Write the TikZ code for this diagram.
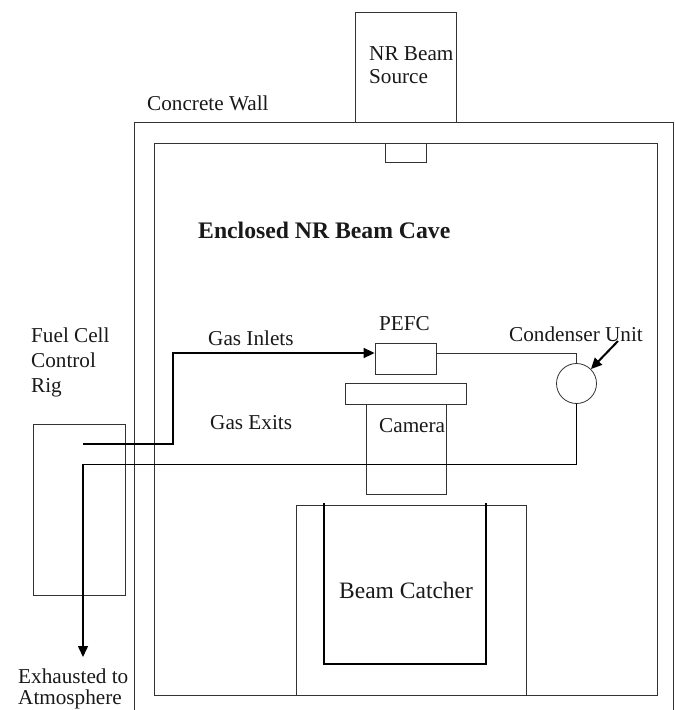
\documentclass[tikz,border=0pt]{standalone}
\usepackage{fontspec}
\setmainfont{Liberation Serif}
\usetikzlibrary{arrows.meta}
\begin{document}
\begin{tikzpicture}[x=1pt,y=-1pt,
  ln/.style={draw=black!80, line width=0.8pt},
  boxn/.style={ln, rectangle, inner sep=0pt, fill=none},
  lbl/.style={font=\fontsize{21.2}{25}\selectfont, anchor=base west, inner sep=0pt, text=black!90},
  flow/.style={draw=black, line width=1.5pt, -{Triangle[length=11pt,width=10pt]}},
  thinflow/.style={draw=black, line width=1pt}
]
\useasboundingbox (0,0) rectangle (675,710);

% concrete wall and cave
\draw[ln] (134,710) -- (134,122) -- (673,122) -- (673,710);
\node[boxn, minimum width=503pt, minimum height=552pt] (cave) at (405.5,419) {};
\node[boxn, minimum width=101pt, minimum height=110pt] (src) at (405.5,67) {};
\node[boxn, minimum width=41pt, minimum height=19pt] (win) at (405.5,152.5) {};

% components
\node[boxn, minimum width=61pt, minimum height=31pt] (pefc) at (405.5,358.5) {};
\node[boxn, minimum width=121pt, minimum height=21pt] (plate) at (405.5,393.5) {};
\node[boxn, minimum width=80pt, minimum height=90pt] (cam) at (406,449) {};
\node[ln, circle, minimum size=40pt, inner sep=0pt] (cond) at (576.5,383.5) {};
\node[boxn, minimum width=92pt, minimum height=171pt] (rig) at (79,509.5) {};
\node[boxn, minimum width=230pt, minimum height=190pt] (bc) at (411,600) {};
\draw[draw=black, line width=2pt] (324,503) -- (324,664) -- (486,664) -- (486,503);

% connectors
\coordinate (inS) at (83,444);
\coordinate (pipeY) at (0,353);
\coordinate (outE) at (83,464);
\coordinate (exh) at (83,657);
\coordinate (cArr) at (618,341);
\draw[flow] (inS) -- (173,444) -- (173,353) -- (pefc.west |- pipeY);
\draw[ln] (pefc.east |- pipeY) -| (cond.north);
\draw[thinflow] (cond.south) -- (cond.south |- outE) -- (outE);
\draw[flow] (outE) -- (exh);
\draw[flow, line width=2pt] (cArr) -- (cond.north east);

% labels
\node[lbl] (tsrc1) at (369,60) {NR Beam};
\node[lbl] (tsrc2) at (369,83) {Source};
\node[lbl] (twall) at (147,110) {Concrete Wall};
\node[lbl, font=\fontsize{23.7}{28}\selectfont\bfseries] (tcave) at (198,238) {Enclosed NR Beam Cave};
\node[lbl] (tin) at (208,345) {Gas Inlets};
\node[lbl] (tpefc) at (379,330) {PEFC};
\node[lbl] (tcond) at (509,341) {Condenser Unit};
\node[lbl] (tcam) at (379,432) {Camera};
\node[lbl] (tex) at (210,429) {Gas Exits};
\node[lbl, font=\fontsize{23.5}{28}\selectfont] (tbc) at (339,598) {Beam Catcher};
\node[lbl] (trig1) at (31,342) {Fuel Cell};
\node[lbl] (trig2) at (31,367) {Control};
\node[lbl] (trig3) at (31,392) {Rig};
\node[lbl] (texh1) at (18,683) {Exhausted to};
\node[lbl] (texh2) at (18,704) {Atmosphere};
\end{tikzpicture}
\end{document}
